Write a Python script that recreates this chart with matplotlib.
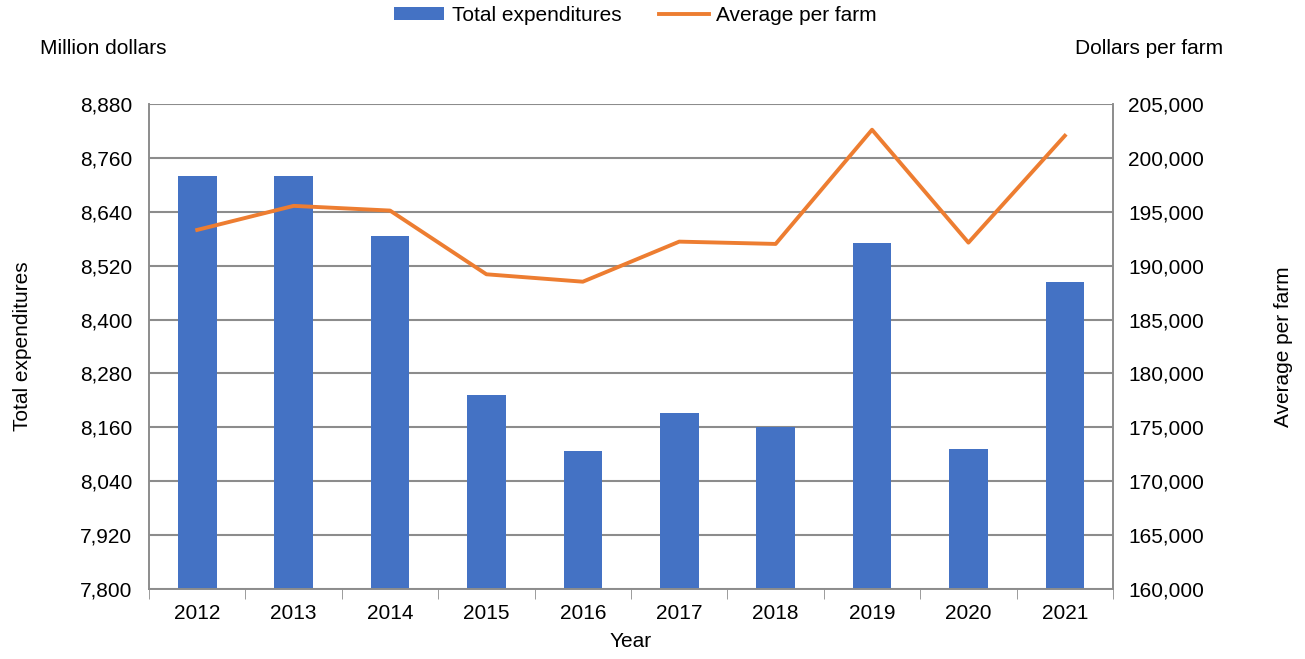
import matplotlib.pyplot as plt
import numpy as np
from matplotlib.ticker import FuncFormatter, FixedLocator

plt.rcParams['font.family'] = ['Liberation Sans', 'DejaVu Sans']

years = ['2012', '2013', '2014', '2015', '2016', '2017', '2018', '2019', '2020', '2021']
total_exp = [8720, 8720, 8585, 8232, 8107, 8192, 8161, 8570, 8111, 8484]
avg_farm = [193317, 195548, 195111, 189200, 188513, 192230, 192016, 202611, 192137, 202054]

fig = plt.figure(figsize=(13.05, 6.59), dpi=100)
ax = fig.add_axes([0.1142, 0.1062, 0.7387, 0.736])
ax2 = ax.twinx()

x = np.arange(len(years))
grid_c = '#8c8c8c'
fs = 15

ax.set_ylim(7800, 8880)
ax.set_yticks(np.arange(7800, 8881, 120))
ax.yaxis.grid(True, color=grid_c, linewidth=1.5)
ax.set_axisbelow(True)
bars = ax.bar(x, total_exp, width=0.4, color='#4472c4', label='Total expenditures', zorder=2)
ax.set_xlim(-0.5, len(years) - 0.5)
ax.set_xticks(x)
ax.set_xticklabels(years)
ax.xaxis.set_minor_locator(FixedLocator(np.arange(-0.5, len(years), 1)))
ax.tick_params(axis='x', which='major', length=0, labelsize=fs, pad=11)
ax.tick_params(axis='x', which='minor', length=7, color=grid_c, direction='out')
ax.tick_params(axis='y', length=0, labelsize=fs, pad=12)
ax.yaxis.set_major_formatter(FuncFormatter(lambda v, p: f'{v:,.0f}'))

ax2.set_ylim(160000, 205000)
ax2.set_yticks(np.arange(160000, 205001, 5000))
line, = ax2.plot(x, avg_farm, color='#ed7d31', linewidth=2.8, label='Average per farm')
ax2.tick_params(axis='y', length=0, labelsize=fs, pad=11)
ax2.yaxis.set_major_formatter(FuncFormatter(lambda v, p: f'{v:,.0f}'))

for a in (ax, ax2):
    for s in a.spines.values():
        s.set_color(grid_c)
        s.set_linewidth(1.2)
    a.spines['top'].set_visible(False)

ax.set_xlabel('Year', fontsize=fs, labelpad=6)
ax.set_ylabel('Total expenditures', fontsize=fs)
ax2.set_ylabel('Average per farm', fontsize=fs)
ax.yaxis.set_label_coords(-0.121, 0.5)
ax2.yaxis.set_label_coords(1.167, 0.5)

fig.text(0.031, 0.927, 'Million dollars', fontsize=fs, va='center', ha='left')
fig.text(0.937, 0.927, 'Dollars per farm', fontsize=fs, va='center', ha='right')

fig.legend([bars, line], ['Total expenditures', 'Average per farm'], loc='center',
           bbox_to_anchor=(0.487, 0.977), ncol=2, frameon=False, fontsize=fs,
           handlelength=2.4, handleheight=0.55, columnspacing=1.8, handletextpad=0.35)

fig.savefig('out.png', dpi=100)
